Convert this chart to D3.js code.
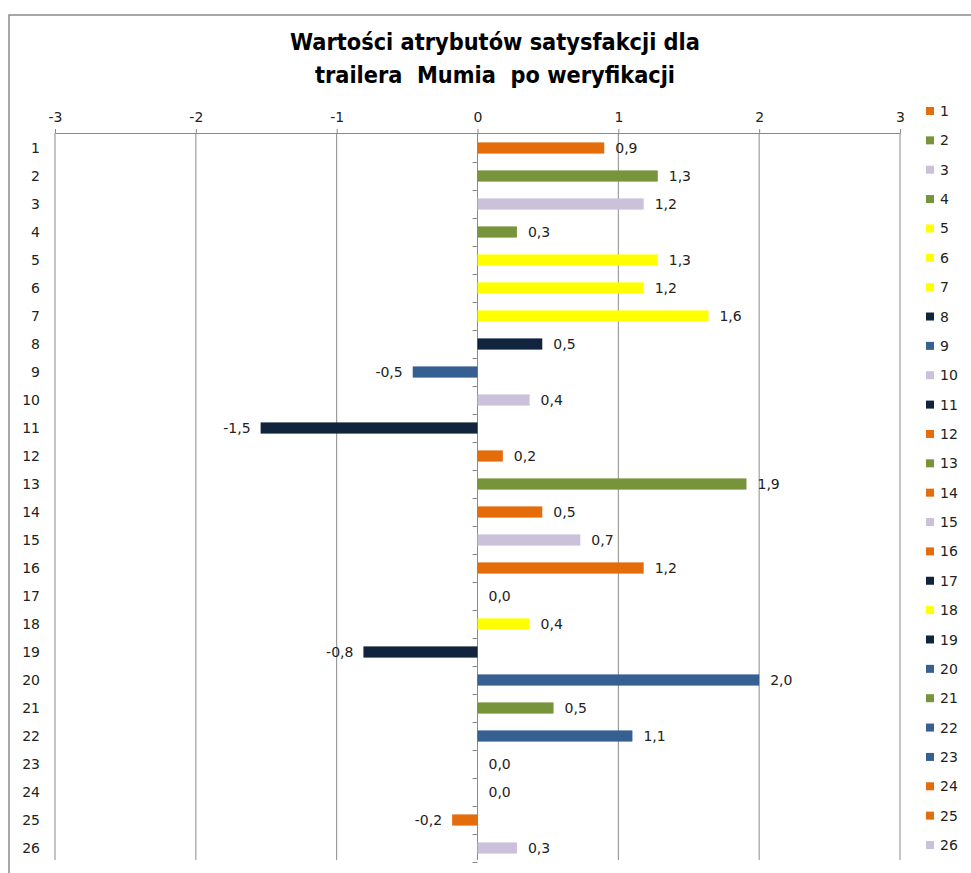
<!DOCTYPE html>
<html>
<head>
<meta charset="utf-8">
<script src="https://cdn.jsdelivr.net/npm/d3@7"></script>
<style>
  body { margin: 0; background: #fff; }
  text { font-family: "DejaVu Sans", Verdana, sans-serif; fill: #222; }
</style>
</head>
<body>
<div id="chart"></div>
<script>
// dane
const categories = d3.range(1, 27).map(String);
const values = [0.9, 1.28, 1.18, 0.28, 1.28, 1.18, 1.64, 0.46, -0.46, 0.37,
                -1.54, 0.18, 1.91, 0.46, 0.73, 1.18, 0.0, 0.37, -0.81, 2.0,
                0.54, 1.1, 0.0, 0.0, -0.18, 0.28];
const xTicks = [-3, -2, -1, 0, 1, 2, 3];
const titleLines = ["Wartości atrybutów satysfakcji dla", "trailera  Mumia  po weryfikacji"];

// kolory kategorii (jak w legendzie)
const ORANGE = "#E46C0A", GREEN = "#77933C", LILAC = "#CCC1DA", YELLOW = "#FFFF00",
      NAVY = "#10243E", BLUE = "#376092";
const barColors = [ORANGE, GREEN, LILAC, GREEN, YELLOW, YELLOW, YELLOW, NAVY, BLUE, LILAC,
                   NAVY, ORANGE, GREEN, ORANGE, LILAC, ORANGE, NAVY, YELLOW, NAVY, BLUE,
                   GREEN, BLUE, BLUE, ORANGE, ORANGE, LILAC];

const W = 971, H = 873;
const svg = d3.select("#chart").append("svg")
    .attr("width", W).attr("height", H);

// ramka wykresu
svg.append("rect")
    .attr("x", 9).attr("y", 15).attr("width", 1000).attr("height", 900)
    .attr("fill", "none").attr("stroke", "#8c8c8c").attr("stroke-width", 1.5);

// tytuł (z zachowaniem podwójnych spacji)
const title = svg.append("g");
titleLines.forEach((t, i) => {
    title.append("text")
        .attr("x", 495).attr("y", 50 + i * 33)
        .attr("text-anchor", "middle")
        .style("white-space", "pre")
        .style("font-family", "'Liberation Sans Narrow', 'DejaVu Sans Condensed', sans-serif")
        .style("font-weight", "bold")
        .style("font-size", "23px")
        .style("fill", "#000")
        .text(t);
});
// dopasowanie szerokości pierwszej linii (~410px jak w oryginale)
const firstLen = title.select("text").node().getComputedTextLength();
title.selectAll("text").style("font-size", (23 * 410 / firstLen) + "px");

const plotTop = 134, plotBottom = 862;
const x = d3.scaleLinear().domain([-3, 3]).range([55, 900]);
const y = d3.scaleBand().domain(categories).range([plotTop, plotBottom]).padding(0);
const barH = y.bandwidth() * 0.4;

// linie siatki
svg.append("g").selectAll("line")
    .data(xTicks)
    .join("line")
    .attr("x1", d => x(d)).attr("x2", d => x(d))
    .attr("y1", plotTop - 1).attr("y2", plotBottom - 2)
    .attr("stroke", "#8a8a8a").attr("stroke-width", 1);

// oś górna
const xAxis = svg.append("g")
    .attr("transform", `translate(0,${plotTop - 1})`)
    .call(d3.axisTop(x).tickValues(xTicks).tickSize(4).tickSizeOuter(0).tickFormat(d => String(d)));
xAxis.select(".domain").attr("stroke", "#8a8a8a");
xAxis.selectAll(".tick line").attr("stroke", "#8a8a8a");
xAxis.selectAll(".tick text")
    .attr("y", -11)
    .style("font-size", "14px").style("font-family", "'DejaVu Sans', sans-serif").attr("fill", "#222");

// znaczniki kategorii na osi zero
const yEdge = d3.scaleLinear().domain([0, categories.length]).range([plotTop, plotBottom]);
const yAxis = svg.append("g")
    .attr("transform", `translate(${x(0)},0)`)
    .call(d3.axisLeft(yEdge).tickValues(d3.range(1, categories.length + 1)).tickSize(5).tickSizeOuter(0).tickFormat(""));
yAxis.select(".domain").remove();
yAxis.selectAll(".tick line").attr("stroke", "#8a8a8a");

// etykiety kategorii (pozycja "niska")
svg.append("g").selectAll("text")
    .data(categories)
    .join("text")
    .attr("x", 40)
    .attr("y", d => y(d) + y.bandwidth() / 2)
    .attr("dy", "0.36em")
    .attr("text-anchor", "end")
    .style("font-size", "14px")
    .text(d => d);

// słupki
svg.append("g").selectAll("rect")
    .data(values)
    .join("rect")
    .attr("x", d => x(Math.min(0, d)))
    .attr("y", (d, i) => y(categories[i]) + (y.bandwidth() - barH) / 2)
    .attr("width", d => Math.abs(x(d) - x(0)))
    .attr("height", barH)
    .attr("fill", (d, i) => barColors[i]);

// etykiety danych
const fmt = v => v.toFixed(1).replace(".", ",").replace("-0,0", "0,0");
svg.append("g").selectAll("text")
    .data(values)
    .join("text")
    .attr("x", d => d < 0 ? x(d) - 10 : x(d) + 11)
    .attr("y", (d, i) => y(categories[i]) + y.bandwidth() / 2)
    .attr("dy", "0.36em")
    .attr("text-anchor", d => d < 0 ? "end" : "start")
    .style("font-size", "14px")
    .text(fmt);

// legenda
const leg = svg.append("g").selectAll("g")
    .data(categories)
    .join("g")
    .attr("transform", (d, i) => `translate(926,${111 + i * 29.36})`);
leg.append("rect")
    .attr("x", 0).attr("y", -4).attr("width", 8).attr("height", 8)
    .attr("fill", (d, i) => barColors[i]);
leg.append("text")
    .attr("x", 14).attr("dy", "0.36em")
    .style("font-size", "14px")
    .text(d => d);
</script>
</body>
</html>
